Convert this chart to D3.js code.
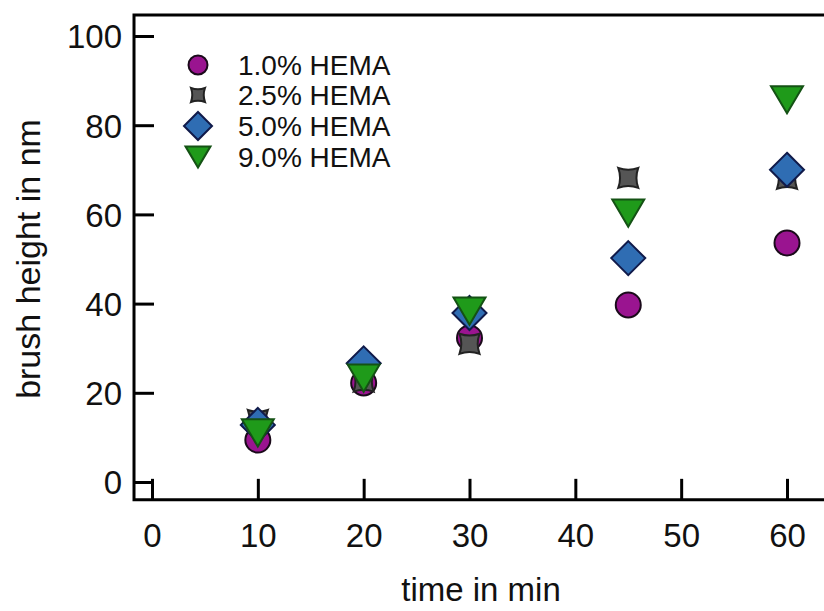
<!DOCTYPE html>
<html>
<head>
<meta charset="utf-8">
<script src="https://cdn.jsdelivr.net/npm/d3@7"></script>
<style>
  body { margin: 0; background: #fff; }
  svg { display: block; font-family: "Liberation Sans", Arial, sans-serif; }
</style>
</head>
<body>
<div id="chart"></div>
<script>
// data
var times = [10, 20, 30, 45, 60];
var hema10 = [9.4, 22.2, 32.3, 39.7, 53.6];
var hema25 = [13.9, 22.5, 31.0, 68.2, 68.0];
var hema50 = [12.8, 26.6, 37.9, 50.2, 70.0];
var hema90 = [11.0, 23.3, 38.3, 60.3, 85.7];
var seriesNames = ["1.0% HEMA", "2.5% HEMA", "5.0% HEMA", "9.0% HEMA"];
var xTicks = [0, 10, 20, 30, 40, 50, 60];
var yTicks = [0, 20, 40, 60, 80, 100];

var svgWidth = 824, svgHeight = 611;

var svg = d3.select("#chart").append("svg")
  .attr("width", svgWidth)
  .attr("height", svgHeight);

var x = d3.scaleLinear().domain([0, 60]).range([152, 787]);
var y = d3.scaleLinear().domain([0, 100]).range([482, 36]);

var frameLeft = x(-1.7), frameTop = y(104.7), frameBottom = y(-4);

// marker shapes
function starPath(s) {
  // square with concave sides
  var h = s / 2, c = s * 0.18;
  return "M" + (-h) + "," + (-h) +
    " Q0," + (-h + c) + " " + h + "," + (-h) +
    " Q" + (h - c) + ",0 " + h + "," + h +
    " Q0," + (h - c) + " " + (-h) + "," + h +
    " Q" + (-h + c) + ",0 " + (-h) + "," + (-h) + "Z";
}
function diamondPath(r) {
  return "M0," + (-r) + " L" + r + ",0 L0," + r + " L" + (-r) + ",0Z";
}
function triPath(w) {
  var h = w * 0.85;
  return "M" + (-w / 2) + "," + (-h / 2) + " L" + (w / 2) + "," + (-h / 2) + " L0," + (h / 2) + "Z";
}
function circlePath(r) {
  var p = d3.path();
  p.moveTo(r, 0);
  p.arc(0, 0, r, 0, 2 * Math.PI);
  p.closePath();
  return p.toString();
}

var series = [
  {name: seriesNames[0], vals: hema10, fill: "#9a1490", stroke: "#1a0a1a", shape: circlePath, size: 12.5, lsize: 9.5},
  {name: seriesNames[1], vals: hema25, fill: "#555555", stroke: "#222222", shape: starPath, size: 20, lsize: 14},
  {name: seriesNames[2], vals: hema50, fill: "#2f6db3", stroke: "#101a4a", shape: diamondPath, size: 17, lsize: 14},
  {name: seriesNames[3], vals: hema90, fill: "#1f9a1a", stroke: "#145214", shape: triPath, size: 32, lsize: 25}
];

// points
series.forEach(function(s) {
  svg.append("g").selectAll("path")
    .data(times)
    .enter()
    .append("path")
    .attr("transform", function(d, i) { return "translate(" + x(d) + "," + y(s.vals[i]) + ")"; })
    .attr("d", s.shape(s.size))
    .attr("fill", s.fill)
    .attr("stroke", s.stroke)
    .attr("stroke-width", 2);
});

// axes
var xAxis = d3.axisBottom(x).tickValues(xTicks).tickSizeInner(-21).tickSizeOuter(0).tickPadding(0);
var gx = svg.append("g").attr("transform", "translate(0," + frameBottom + ")").call(xAxis);
gx.select(".domain").remove();
gx.selectAll("line").attr("stroke", "#000").attr("stroke-width", 3);
gx.selectAll("text").attr("y", 47).attr("dy", 0).attr("font-size", 33).attr("fill", "#111").attr("font-family", "Liberation Sans, Arial, sans-serif");

var yAxis = d3.axisLeft(y).tickValues(yTicks).tickSizeInner(-20).tickSizeOuter(0).tickPadding(0);
var gy = svg.append("g").attr("transform", "translate(" + frameLeft + ",0)").call(yAxis);
gy.select(".domain").remove();
gy.selectAll("line").attr("stroke", "#000").attr("stroke-width", 3);
gy.selectAll("text").attr("x", -12).attr("dy", "0.36em").attr("font-size", 33).attr("fill", "#111").attr("font-family", "Liberation Sans, Arial, sans-serif");

// frame
svg.append("path")
  .attr("d", "M" + (svgWidth + 5) + "," + frameTop + " L" + frameLeft + "," + frameTop +
             " L" + frameLeft + "," + frameBottom + " L" + (svgWidth + 5) + "," + frameBottom)
  .attr("fill", "none")
  .attr("stroke", "#000")
  .attr("stroke-width", 3);

// axis titles
svg.append("text")
  .attr("x", 481)
  .attr("y", 601)
  .attr("text-anchor", "middle")
  .attr("font-size", 33)
  .attr("fill", "#111")
  .text("time in min");

svg.append("text")
  .attr("transform", "translate(40,259) rotate(-90)")
  .attr("text-anchor", "middle")
  .attr("font-size", 34)
  .attr("fill", "#111")
  .text("brush height in nm");

// legend
var legendY = [65, 95, 126, 157];
var legend = svg.append("g");
series.forEach(function(s, i) {
  legend.append("path")
    .attr("transform", "translate(198," + legendY[i] + ")")
    .attr("d", s.shape(s.lsize))
    .attr("fill", s.fill)
    .attr("stroke", s.stroke)
    .attr("stroke-width", 2);
  legend.append("text")
    .attr("x", 238)
    .attr("y", legendY[i])
    .attr("dy", "0.36em")
    .attr("font-size", 28)
    .attr("fill", "#111")
    .text(s.name);
});
</script>
</body>
</html>
